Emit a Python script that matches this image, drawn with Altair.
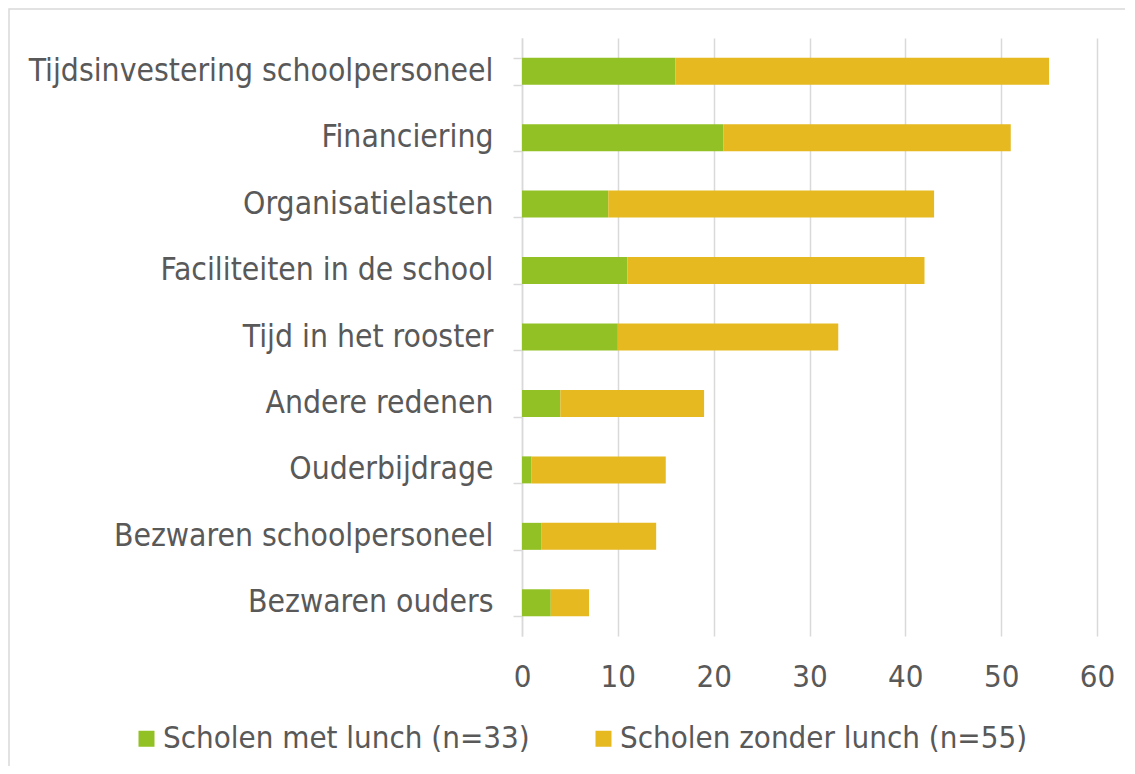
import altair as alt
import pandas as pd

categories = [
    "Tijdsinvestering schoolpersoneel",
    "Financiering",
    "Organisatielasten",
    "Faciliteiten in de school",
    "Tijd in het rooster",
    "Andere redenen",
    "Ouderbijdrage",
    "Bezwaren schoolpersoneel",
    "Bezwaren ouders",
]
met_lunch = [16, 21, 9, 11, 10, 4, 1, 2, 3]
zonder_lunch = [39, 30, 34, 31, 23, 15, 14, 12, 4]
series = ["Scholen met lunch (n=33)", "Scholen zonder lunch (n=55)"]
colors = ["#92c125", "#e5b91f"]
x_ticks = [0, 10, 20, 30, 40, 50, 60]

rows = []
for c, a, b in zip(categories, met_lunch, zonder_lunch):
    rows.append({"cat": c, "series": series[0], "value": a, "ord": 0})
    rows.append({"cat": c, "series": series[1], "value": b, "ord": 1})
df = pd.DataFrame(rows)

FONT = "DejaVu Sans Condensed"
TXT = "#595959"
GRID = "#d9d9d9"
FS = 31

bars = alt.Chart(df).mark_bar(size=27).encode(
    x=alt.X(
        "value:Q",
        stack="zero",
        scale=alt.Scale(domain=[0, 60], nice=False, zero=True),
        axis=alt.Axis(
            values=x_ticks, grid=True, gridColor=GRID, gridWidth=1.5,
            domain=False, ticks=False, labelFontSize=FS, labelColor=TXT,
            labelFont=FONT, labelPadding=26, labelFlush=False, title=None,
        ),
    ),
    y=alt.Y(
        "cat:N",
        sort=categories,
        scale=alt.Scale(paddingInner=0.6, paddingOuter=0.3),
        axis=alt.Axis(
            title=None, tickBand="extent", ticks=True, tickColor=GRID,
            tickWidth=1.5, tickSize=9, domainColor=GRID, domainWidth=1.5,
            labelFontSize=31.6, labelColor=TXT, labelFont=FONT,
            labelPadding=20, labelLimit=600, grid=False,
        ),
    ),
    color=alt.Color(
        "series:N",
        scale=alt.Scale(domain=series, range=colors),
        legend=alt.Legend(
            orient="none", legendX=-391, legendY=685, direction="horizontal",
            title=None, symbolType="square", symbolSize=256,
            symbolStrokeWidth=0, labelFontSize=FS, labelColor=TXT,
            labelFont=FONT, labelLimit=600, columnPadding=58,
            labelOffset=1,
        ),
    ),
    order=alt.Order("ord:Q"),
)

frame = alt.Chart(pd.DataFrame({"a": [0]})).mark_rect(
    fill=None, stroke=GRID, strokeWidth=1.5
).encode(
    x=alt.value(-513), x2=alt.value(604), y=alt.value(-29), y2=alt.value(735)
)

chart = alt.layer(frame, bars).properties(
    width=575, height=598,
    autosize=alt.AutoSizeParams(type="none"),
    padding={"left": 514, "top": 30, "right": 28, "bottom": 130},
).configure_view(stroke=None)

chart.save("out.html", embed_options={"renderer": "svg", "actions": False})
